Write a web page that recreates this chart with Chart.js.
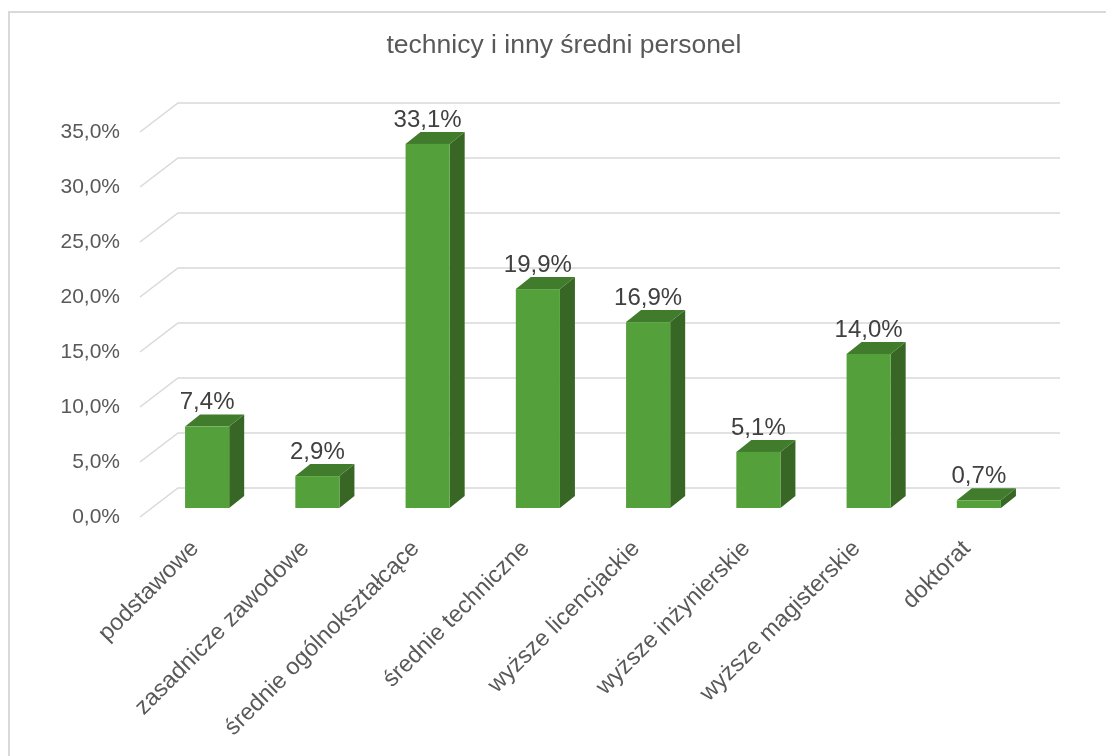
<!DOCTYPE html>
<html>
<head>
<meta charset="utf-8">
<script src="https://cdn.jsdelivr.net/npm/chart.js@4.4.1/dist/chart.umd.min.js"></script>
<style>
  html, body { margin: 0; padding: 0; background: #fff; }
</style>
</head>
<body>
<canvas id="chart" width="1106" height="756"></canvas>
<script>
const title = "technicy i inny średni personel";
const categories = [
  "podstawowe",
  "zasadnicze zawodowe",
  "średnie ogólnokształcące",
  "średnie techniczne",
  "wyższe licencjackie",
  "wyższe inżynierskie",
  "wyższe magisterskie",
  "doktorat",
];
const values = [7.4, 2.9, 33.1, 19.9, 16.9, 5.1, 14.0, 0.7];
const yMin = 0;
const yMax = 35;
const yStep = 5;

const FONT = "'Liberation Sans', Arial, sans-serif";
const fmt = (v) => v.toFixed(1).replace(".", ",") + "%";

// depth of the 3D back wall and of the bar boxes
const WALL = { dx: 38, dy: 29 };
const BAR_SHIFT = { dx: 12, dy: 9 };
const BAR_DEPTH = { dx: 15, dy: 12 };

const framePlugin = {
  id: "frame",
  beforeDraw(chart) {
    const { ctx } = chart;
    ctx.save();
    ctx.fillStyle = "#fff";
    ctx.fillRect(0, 0, chart.width, chart.height);
    ctx.strokeStyle = "#d9d9d9";
    ctx.lineWidth = 2;
    ctx.strokeRect(9, 12, 1300, 1000);
    // title
    ctx.fillStyle = "#595959";
    ctx.font = "26.5px " + FONT;
    ctx.textAlign = "center";
    ctx.textBaseline = "middle";
    ctx.fillText(title, 564, 46);
    ctx.restore();
  },
};

const gridPlugin = {
  id: "grid3d",
  beforeDatasetsDraw(chart) {
    const { ctx, chartArea } = chart;
    const y = chart.scales.y;
    ctx.save();
    ctx.strokeStyle = "#d9d9d9";
    ctx.lineWidth = 1.5;
    y.ticks.forEach((t) => {
      const py = y.getPixelForValue(t.value);
      ctx.beginPath();
      ctx.moveTo(chartArea.left, py);
      ctx.lineTo(chartArea.left + WALL.dx, py - WALL.dy);
      ctx.lineTo(chartArea.right + WALL.dx, py - WALL.dy);
      ctx.stroke();
    });
    ctx.restore();
  },
};

const barsPlugin = {
  id: "bars3d",
  afterDatasetsDraw(chart) {
    const { ctx } = chart;
    const meta = chart.getDatasetMeta(0);
    ctx.save();
    meta.data.forEach((bar, i) => {
      const xl = bar.x - bar.width / 2 + BAR_SHIFT.dx;
      const xr = bar.x + bar.width / 2 + BAR_SHIFT.dx;
      const yt = bar.y - BAR_SHIFT.dy;
      const yb = bar.base - BAR_SHIFT.dy;

      // side
      ctx.fillStyle = "#386725";
      ctx.beginPath();
      ctx.moveTo(xr, yt);
      ctx.lineTo(xr + BAR_DEPTH.dx, yt - BAR_DEPTH.dy);
      ctx.lineTo(xr + BAR_DEPTH.dx, yb - BAR_DEPTH.dy);
      ctx.lineTo(xr, yb);
      ctx.closePath();
      ctx.fill();

      // top
      ctx.fillStyle = "#417c2d";
      ctx.beginPath();
      ctx.moveTo(xl, yt);
      ctx.lineTo(xl + BAR_DEPTH.dx, yt - BAR_DEPTH.dy);
      ctx.lineTo(xr + BAR_DEPTH.dx, yt - BAR_DEPTH.dy);
      ctx.lineTo(xr, yt);
      ctx.closePath();
      ctx.fill();

      // front
      ctx.fillStyle = "#54a03b";
      ctx.fillRect(xl, yt, xr - xl, yb - yt);

      // value label
      ctx.fillStyle = "#404040";
      ctx.font = "24px " + FONT;
      ctx.textAlign = "center";
      ctx.textBaseline = "middle";
      ctx.fillText(fmt(values[i]), (xl + xr) / 2, yt - 24);
    });
    ctx.restore();
  },
};

const ctx = document.getElementById("chart").getContext("2d");
new Chart(ctx, {
  type: "bar",
  data: {
    labels: categories,
    datasets: [
      {
        data: values,
        backgroundColor: "rgba(0,0,0,0)",
        borderWidth: 0,
        categoryPercentage: 1,
        barPercentage: 0.4,
      },
    ],
  },
  options: {
    responsive: false,
    animation: false,
    layout: { padding: { top: 132, right: 84, bottom: 0, left: 0 } },
    plugins: {
      legend: { display: false },
      tooltip: { enabled: false },
    },
    scales: {
      x: {
        grid: { display: false },
        border: { display: false },
        ticks: {
          autoSkip: false,
          minRotation: 45,
          maxRotation: 45,
          padding: 10,
          color: "#595959",
          font: { size: 23.5, family: FONT },
        },
        afterFit(scale) {
          scale.height = 239;
        },
      },
      y: {
        min: yMin,
        max: yMax,
        grid: { display: false },
        border: { display: false },
        ticks: {
          stepSize: yStep,
          padding: 12,
          color: "#595959",
          font: { size: 21, family: FONT },
          callback: (v) => fmt(v),
        },
        afterFit(scale) {
          scale.width = 140;
        },
      },
    },
  },
  plugins: [framePlugin, gridPlugin, barsPlugin],
});
</script>
</body>
</html>
